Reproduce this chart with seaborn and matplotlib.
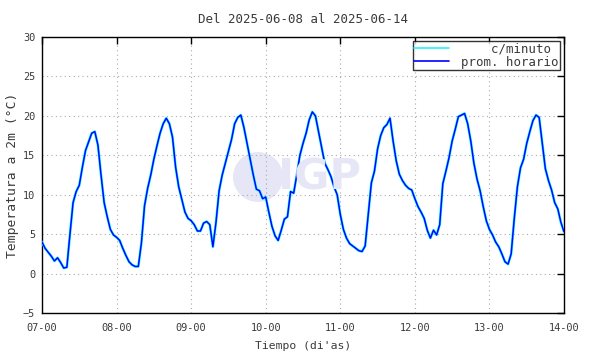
import numpy as np
import pandas as pd
import matplotlib
matplotlib.use("Agg")
import matplotlib.pyplot as plt
import matplotlib.dates as mdates
from matplotlib.patches import Circle
import seaborn as sns

# ---------------- data ----------------
title_text = "Del 2025-06-08 al 2025-06-14"
start_time = "2025-06-07 00:00"
series_labels = ["c/minuto", "prom. horario"]
y_ticks = [-5, 0, 5, 10, 15, 20, 25, 30]

day07 = [4.0, 3.2, 2.7, 2.2, 1.6, 2.0, 1.4, 0.7, 0.8, 5.0, 9.0, 10.4,
         11.2, 13.5, 15.6, 16.7, 17.8, 18.0, 16.3, 12.5, 9.0, 7.2, 5.6, 4.9]
day08 = [4.6, 4.2, 3.2, 2.3, 1.5, 1.1, 0.9, 0.9, 3.9, 8.6, 10.8, 12.5,
         14.5, 16.2, 17.8, 19.0, 19.7, 19.0, 17.3, 13.5, 11.0, 9.4, 7.8, 7.0]
day09 = [6.7, 6.2, 5.4, 5.4, 6.4, 6.6, 6.2, 3.4, 6.5, 10.5, 12.5, 14.0,
         15.5, 17.0, 19.0, 19.8, 20.1, 18.5, 16.5, 14.5, 12.5, 10.7, 10.5, 9.5]
day10 = [9.7, 7.8, 6.0, 4.8, 4.2, 5.5, 6.9, 7.2, 10.4, 10.2, 12.5, 15.0,
         16.5, 17.8, 19.5, 20.5, 20.0, 18.0, 16.0, 14.0, 13.2, 12.3, 11.0, 10.0]
day11 = [7.5, 5.6, 4.5, 3.8, 3.5, 3.2, 2.9, 2.8, 3.5, 7.5, 11.5, 13.0,
         15.8, 17.5, 18.5, 18.9, 19.7, 16.8, 14.3, 12.6, 11.8, 11.2, 10.8, 10.6]
day12 = [9.5, 8.5, 7.8, 7.0, 5.5, 4.5, 5.5, 4.9, 6.2, 11.4, 13.0, 14.7,
         16.8, 18.3, 19.9, 20.1, 20.3, 19.0, 16.8, 14.0, 12.0, 10.5, 8.5, 6.7]
day13 = [5.6, 4.9, 4.0, 3.4, 2.5, 1.5, 1.2, 2.5, 7.0, 11.0, 13.4, 14.5,
         16.5, 18.0, 19.4, 20.1, 19.8, 16.5, 13.3, 11.8, 10.6, 9.0, 8.2, 6.5]
day14 = [5.3]

temps_hourly = day07 + day08 + day09 + day10 + day11 + day12 + day13 + day14

# ---------------- figure ----------------
sns.set_theme(style="white")
mono = ["DejaVu Sans Mono"]
plt.rcParams["font.family"] = mono
txt_color = "#3a3a3a"

times = pd.date_range(start_time, periods=len(temps_hourly), freq="h")
df = pd.DataFrame({"t": times, "T": temps_hourly})

fig = plt.figure(figsize=(5.9, 3.54), dpi=100)
ax = fig.add_axes([42 / 590, 1 - 313 / 354, (564 - 42) / 590, (313 - 37) / 354])

# watermark (IGP logo), drawn behind the axes content
fig.add_artist(Circle((2.58, 1.77), 0.25, transform=fig.dpi_scale_trans,
                      facecolor="#e6e6f7", edgecolor="none", zorder=0))
fig.text(320 / 590, 1 - 177 / 354, "IGP", fontsize=31, fontweight="bold",
         family=["DejaVu Sans"], color="#e6e6f7", ha="center", va="center",
         zorder=0)
ax.set_facecolor("none")

sns.lineplot(data=df, x="t", y="T", ax=ax, color="#22f4ff", linewidth=1.9,
             label="    " + series_labels[0], zorder=3)
sns.lineplot(data=df, x="t", y="T", ax=ax, color="#0000ff", linewidth=1.05,
             label=series_labels[1], zorder=4)

ax.set_xlim(times[0], times[-1])
ax.set_ylim(-5, 30)
ax.set_yticks(y_ticks)
ax.xaxis.set_major_locator(mdates.DayLocator())
ax.xaxis.set_major_formatter(mdates.DateFormatter("%d-%H"))

ax.grid(True, which="major", color="#aaaaaa", linestyle=(0, (1, 3)), linewidth=0.8)
for s in ax.spines.values():
    s.set_color("black")
    s.set_linewidth(1.0)
ax.tick_params(direction="in", length=5, width=1, color="black",
               top=True, right=True, labelsize=7.4, labelcolor=txt_color)
ax.tick_params(axis="y", pad=5)
ax.tick_params(axis="x", pad=7)

ax.set_xlabel("Tiempo (di'as)", fontsize=8.2, color=txt_color, labelpad=6)
ax.set_ylabel("Temperatura a 2m (°C)", fontsize=9.4, color=txt_color, labelpad=3)
ax.set_title(title_text, fontsize=9.0, color=txt_color, pad=10)

leg = ax.legend(loc="upper right", fontsize=8.9, frameon=True, fancybox=False,
                handlelength=2.8, borderaxespad=0.35, borderpad=0.1,
                labelspacing=0.0, handletextpad=1.0)
leg.get_frame().set_edgecolor("black")
leg.get_frame().set_linewidth(1.0)
for t in leg.get_texts():
    t.set_color(txt_color)
for h in leg.get_lines():
    h.set_linewidth(1.2)

fig.savefig("out.png", dpi=100)
